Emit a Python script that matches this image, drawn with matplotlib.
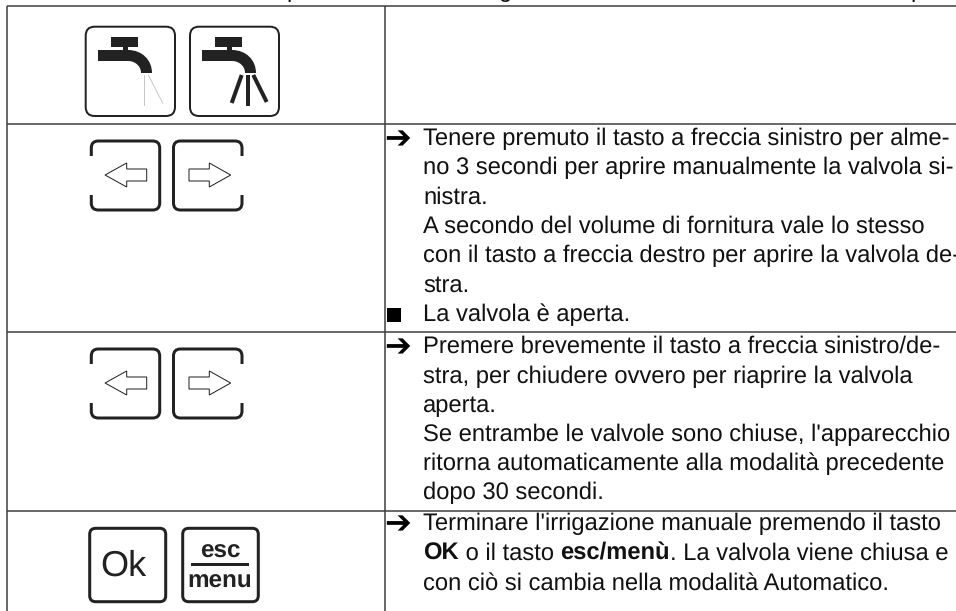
import matplotlib
matplotlib.use('Agg')
import matplotlib.pyplot as plt
from matplotlib.patches import FancyBboxPatch, PathPatch, Polygon, Rectangle
from matplotlib.path import Path

plt.rcParams['font.family'] = ['Liberation Sans', 'DejaVu Sans']
plt.rcParams['text.hinting'] = 'no_hinting'
plt.rcParams['text.hinting_factor'] = 8

# table grid, pixels
row_lines = [6.3, 124, 332.3, 511]
col_lines = [7, 384.7]
line_col = '#3a3a3a'

# text of the right column: (bullet, baseline, [(text, weight), ...])
text_rows = [
    ('arrow', 145, [('Tenere premuto il tasto a freccia sinistro per alme-', 'normal')]),
    (None, 174.3, [('no 3 secondi per aprire manualmente la valvola si-', 'normal')]),
    (None, 203.3, [('nistra.', 'normal')]),
    (None, 232.7, [('A secondo del volume di fornitura vale lo stesso', 'normal')]),
    (None, 261.7, [('con il tasto a freccia destro per aprire la valvola de-', 'normal')]),
    (None, 291.7, [('stra.', 'normal')]),
    ('square', 321, [('La valvola è aperta.', 'normal')]),
    ('arrow', 353, [('Premere brevemente il tasto a freccia sinistro/de-', 'normal')]),
    (None, 382.7, [('stra, per chiudere ovvero per riaprire la valvola', 'normal')]),
    (None, 411.7, [('aperta.', 'normal')]),
    (None, 441, [('Se entrambe le valvole sono chiuse, l\'apparecchio', 'normal')]),
    (None, 470, [('ritorna automaticamente alla modalità precedente', 'normal')]),
    (None, 499.3, [('dopo 30 secondi.', 'normal')]),
    ('arrow', 530, [('Terminare l\'irrigazione manuale premendo il tasto', 'normal')]),
    (None, 560, [('OK', 'bold'), (' o il tasto ', 'normal'), ('esc/menù', 'bold'),
                 ('. La valvola viene chiusa e', 'normal')]),
    (None, 589.3, [('con ciò si cambia nella modalità Automatico.', 'normal')]),
]
text_size = 17.1

fig = plt.figure(figsize=(9.56, 6.11), dpi=100)
ax = fig.add_axes([0, 0, 1, 1])
ax.set_xlim(0, 956)
ax.set_ylim(611, 0)
ax.axis('off')

lw_px = 72 / 100

for y in row_lines:
    ax.plot([col_lines[0], 956], [y, y], color=line_col, lw=1.5 * lw_px, solid_capstyle='butt')
for x in col_lines:
    ax.plot([x, x], [row_lines[0], 611], color=line_col, lw=1.5 * lw_px, solid_capstyle='butt')


def round_box(x0, y0, x1, y1, r, lw):
    ax.add_patch(FancyBboxPatch((x0 + r, y0 + r), x1 - x0 - 2 * r, y1 - y0 - 2 * r,
                                boxstyle='round,pad=%f,rounding_size=%f' % (r, r),
                                fc='white', ec='#222222', lw=lw * lw_px))


def tap(dx):
    ax.add_patch(Rectangle((111 + dx, 37), 27, 9.7, fc='#222222', ec='none'))
    ax.add_patch(Rectangle((122.7 + dx, 46), 5, 6, fc='#222222', ec='none'))
    verts = [(98, 50), (128, 50), (142, 50), (152, 60), (152, 73), (141, 73),
             (141, 66), (135, 61), (128, 61), (98, 61), (98, 50)]
    codes = [Path.MOVETO, Path.LINETO, Path.CURVE4, Path.CURVE4, Path.CURVE4, Path.LINETO,
             Path.CURVE4, Path.CURVE4, Path.CURVE4, Path.LINETO, Path.CLOSEPOLY]
    ax.add_patch(PathPatch(Path([(x + dx, y) for x, y in verts], codes), fc='#222222', ec='none'))


# taps
round_box(85.7, 26.7, 175, 116, 9, 2)
round_box(190, 26.7, 279, 116, 9, 2)
tap(0)
tap(104)
ax.plot([144.3, 144.3], [75, 105.3], color='#c8c8c8', lw=1 * lw_px)
ax.plot([148.3, 162.7], [75, 103], color='#c8c8c8', lw=1 * lw_px)
for x0, y0, x1, y1 in [(241.7, 75, 231.7, 103), (248.3, 75, 248.3, 106), (253.3, 75, 266.7, 102)]:
    ax.plot([x0, x1], [y0, y1], color='#222222', lw=4 * lw_px, solid_capstyle='butt')


def arrow_keys(dy):
    top = 141 + dy
    bot = 210 + dy
    # left key, open on the left side
    round_box(91.3, top, 159.7, bot, 7, 3)
    ax.add_patch(Rectangle((88, 156 + dy), 6, 39, fc='white', ec='none', zorder=3))
    # right key, open on the right side
    round_box(173.5, top, 242, bot, 7, 3)
    ax.add_patch(Rectangle((239, 156 + dy), 6, 39, fc='white', ec='none', zorder=3))
    c = 175 + dy
    ax.add_patch(Polygon([(105, c), (126.7, c - 12), (126.7, c - 6), (146.7, c - 6),
                          (146.7, c + 6), (126.7, c + 6), (126.7, c + 12)],
                         closed=True, fc='white', ec='#222222', lw=1 * lw_px))
    ax.add_patch(Polygon([(230.7, c), (209.3, c - 12), (209.3, c - 6), (189, c - 6),
                          (189, c + 6), (209.3, c + 6), (209.3, c + 12)],
                         closed=True, fc='white', ec='#222222', lw=1 * lw_px))


arrow_keys(0)
arrow_keys(208)

# Ok and esc/menu buttons
round_box(89.7, 528.3, 165.7, 601.7, 6, 3)
round_box(182.7, 528.3, 258.3, 601.7, 6, 3)
ax.text(123, 576, 'Ok', fontsize=26, ha='center', va='baseline', color='#222222')
ax.text(220, 558, 'esc', fontsize=17.5, fontweight='bold', ha='center', va='baseline', color='#222222')
ax.text(220, 588, 'menu', fontsize=17.5, fontweight='bold', ha='center', va='baseline', color='#222222')
ax.add_patch(Rectangle((190.7, 563), 58.6, 3, fc='#222222', ec='none'))

# text column
renderer = fig.canvas.get_renderer()


def seg_width(s, weight):
    t1 = ax.text(0, 0, s + '|', fontsize=text_size, fontweight=weight)
    t2 = ax.text(0, 0, '|', fontsize=text_size, fontweight=weight)
    w = t1.get_window_extent(renderer).width - t2.get_window_extent(renderer).width
    t1.remove()
    t2.remove()
    return w


for bullet, base, segs in text_rows:
    x = 423.3
    for s, weight in segs:
        ax.text(x, base, s, fontsize=text_size, fontweight=weight, va='baseline', ha='left', color='#111111')
        x += seg_width(s, weight)
    if bullet == 'arrow':
        ax.text(384.5, base - 5, '➔', fontsize=23, family=['DejaVu Sans'], va='center', ha='left', color='black')
    elif bullet == 'square':
        ax.add_patch(Rectangle((386.7, base - 13), 14, 13.7, fc='black', ec='none'))

# descenders of the cut-off line above the table
for x, ch in [(293, 'p'), (506, 'g'), (917, 'p')]:
    ax.text(x, -3, ch, fontsize=text_size, va='baseline', ha='center', color='#111111', clip_on=False)

fig.savefig('out.png', dpi=100)
